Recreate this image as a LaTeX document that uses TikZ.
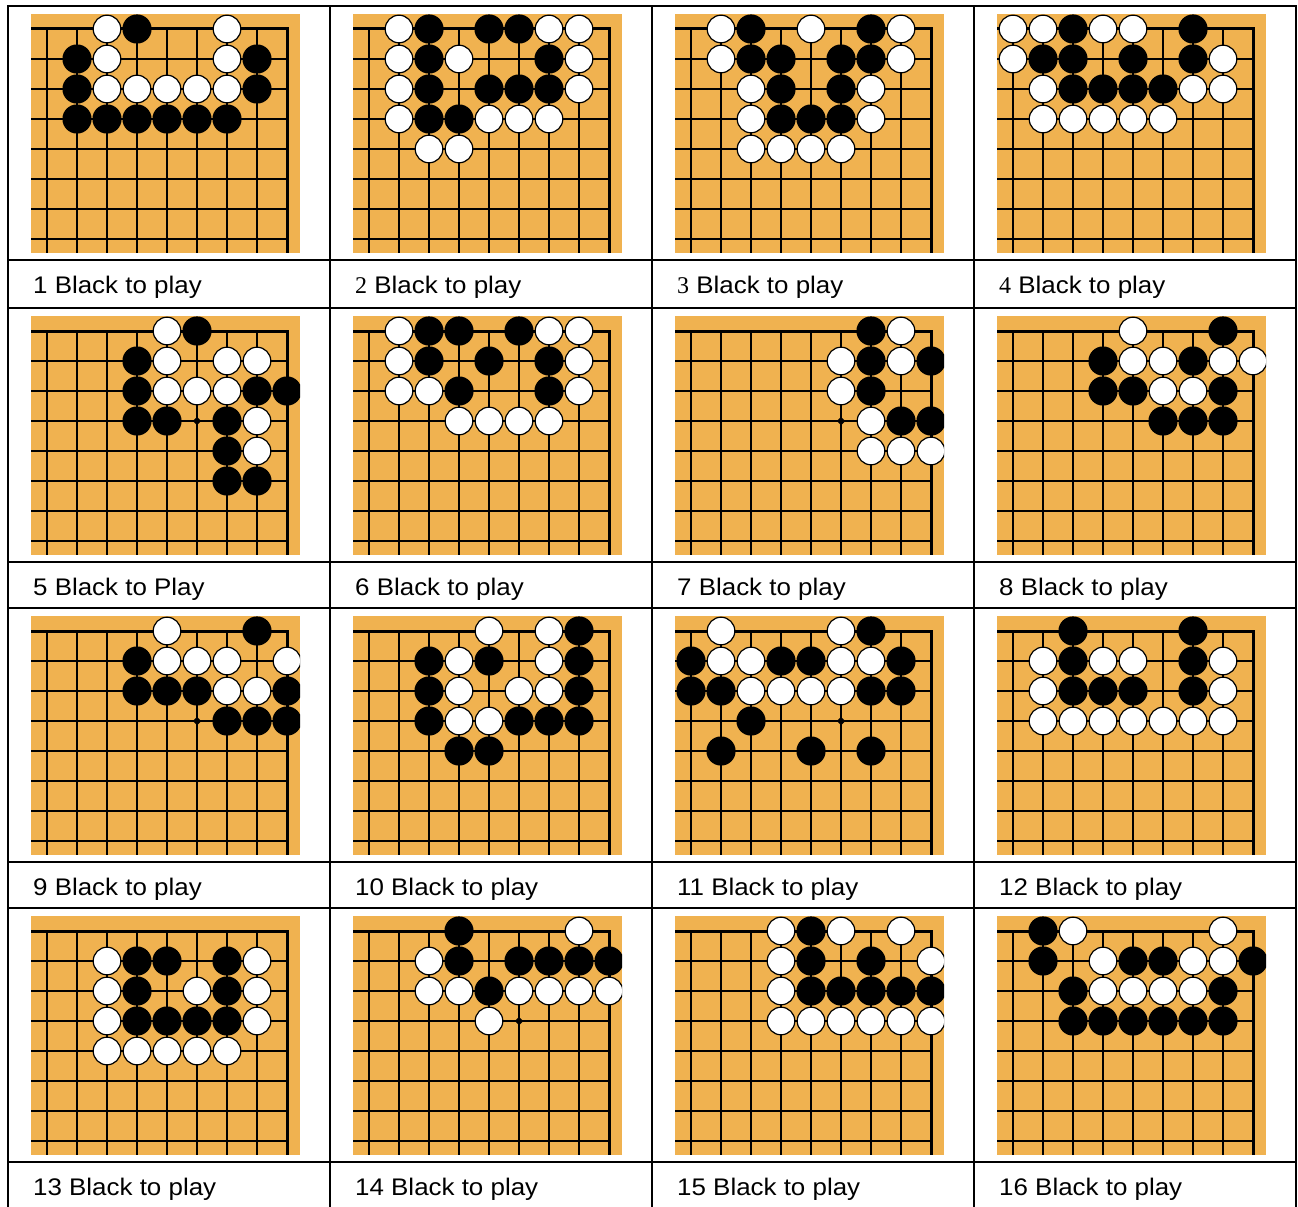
\documentclass[tikz,border=0pt]{standalone}
\usepackage{fontspec}
\setmainfont[FakeStretch=1.08]{Liberation Sans}
\newfontfamily\digitfont{Liberation Serif}
\definecolor{goorange}{RGB}{240, 178, 80}

% one corner diagram: #1 left, #2 top, #3 black stones, #4 white stones (col/row)
\newcommand{\goboard}[4]{%
  \begin{scope}[shift={(#1,#2)}]
    \clip (0,0) rectangle (269,239);
    \fill[goorange] (0,0) rectangle (269,239);
    \foreach \gy in {1,...,7} \draw[gridline] (0,15+30*\gy) -- (256,15+30*\gy);
    \foreach \gx in {0,...,7} \draw[gridline] (16+30*\gx,15) -- (16+30*\gx,239);
    \draw[edgeline] (0,15) -- (256,15) -- (256,239);
    \fill[rotate around={45:(166,105)}] (163,102) rectangle (169,108);
    \foreach \sx/\sy in {#3} \fill[blackstone] (16+30*\sx,15+30*\sy) circle (14.6pt);
    \foreach \sx/\sy in {#4} \draw[whitestone] (16+30*\sx,15+30*\sy) circle (13.8pt);
  \end{scope}}

\begin{document}
\begin{tikzpicture}[x=1pt, y=-1pt,
  tableline/.style={line width=2.4pt, line cap=rect},
  gridline/.style={line width=1.4pt},
  edgeline/.style={line width=3pt, line join=miter},
  blackstone/.style={fill=black},
  whitestone/.style={fill=white, draw=black, line width=1.2pt},
  playlabel/.style={anchor=base west, inner sep=0pt, font=\fontsize{24}{24}\selectfont}]

\useasboundingbox (0,0) rectangle (1298,1207);
\fill[white] (0,0) rectangle (1298,1207);

% === Row 1 ===
\goboard{31}{14}{3/0, 1/1,7/1, 1/2,7/2, 1/3,2/3,3/3,4/3,5/3,6/3}
  {2/0,6/0, 2/1,6/1, 2/2,3/2,4/2,5/2,6/2}
\goboard{353}{14}{2/0,4/0,5/0, 2/1,6/1, 2/2,4/2,5/2,6/2, 2/3,3/3}
  {1/0,6/0,7/0, 1/1,3/1,7/1, 1/2,7/2, 1/3,4/3,5/3,6/3, 2/4,3/4}
\goboard{675}{14}{2/0,6/0, 2/1,3/1,5/1,6/1, 3/2,5/2, 3/3,4/3,5/3}
  {1/0,4/0,7/0, 1/1,7/1, 2/2,6/2, 2/3,6/3, 2/4,3/4,4/4,5/4}
\goboard{997}{14}{2/0,6/0, 1/1,2/1,4/1,6/1, 2/2,3/2,4/2,5/2}
  {0/0,1/0,3/0,4/0, 0/1,7/1, 1/2,6/2,7/2, 1/3,2/3,3/3,4/3,5/3}

% === Row 2 ===
\goboard{31}{316}{5/0, 3/1, 3/2,7/2,8/2, 3/3,4/3,6/3, 6/4, 6/5,7/5}
  {4/0, 4/1,6/1,7/1, 4/2,5/2,6/2, 7/3, 7/4}
\goboard{353}{316}{2/0,3/0,5/0, 2/1,4/1,6/1, 3/2,6/2}
  {1/0,6/0,7/0, 1/1,7/1, 1/2,2/2,7/2, 3/3,4/3,5/3,6/3}
\goboard{675}{316}{6/0, 6/1,8/1, 6/2, 7/3,8/3}
  {7/0, 5/1,7/1, 5/2, 6/3, 6/4,7/4,8/4}
\goboard{997}{316}{7/0, 3/1,6/1, 3/2,4/2,7/2, 5/3,6/3,7/3}
  {4/0, 4/1,5/1,7/1,8/1, 5/2,6/2}

% === Row 3 ===
\goboard{31}{616}{7/0, 3/1, 3/2,4/2,5/2,8/2, 6/3,7/3,8/3}
  {4/0, 4/1,5/1,6/1,8/1, 6/2,7/2}
\goboard{353}{616}{7/0, 2/1,4/1,7/1, 2/2,7/2, 2/3,5/3,6/3,7/3, 3/4,4/4}
  {4/0,6/0, 3/1,6/1, 3/2,5/2,6/2, 3/3,4/3}
\goboard{675}{616}{6/0, 0/1,3/1,4/1,7/1, 0/2,1/2,6/2,7/2, 2/3, 1/4,4/4,6/4}
  {1/0,5/0, 1/1,2/1,5/1,6/1, 2/2,3/2,4/2,5/2}
\goboard{997}{616}{2/0,6/0, 2/1,6/1, 2/2,3/2,4/2,6/2}
  {1/1,3/1,4/1,7/1, 1/2,7/2, 1/3,2/3,3/3,4/3,5/3,6/3,7/3}

% === Row 4 ===
\goboard{31}{916}{3/1,4/1,6/1, 3/2,6/2, 3/3,4/3,5/3,6/3}
  {2/1,7/1, 2/2,5/2,7/2, 2/3,7/3, 2/4,3/4,4/4,5/4,6/4}
\goboard{353}{916}{3/0, 3/1,5/1,6/1,7/1,8/1, 4/2}
  {7/0, 2/1, 2/2,3/2,5/2,6/2,7/2,8/2, 4/3}
\goboard{675}{916}{4/0, 4/1,6/1, 4/2,5/2,6/2,7/2,8/2}
  {3/0,5/0,7/0, 3/1,8/1, 3/2, 3/3,4/3,5/3,6/3,7/3,8/3}
\goboard{997}{916}{1/0, 1/1,4/1,5/1,8/1, 2/2,7/2, 2/3,3/3,4/3,5/3,6/3,7/3}
  {2/0,7/0, 3/1,6/1,7/1, 3/2,4/2,5/2,6/2}

% === Table rules ===
\foreach \x in {8,330,652,974,1296} \draw[tableline] (\x,6) -- (\x,1207);
\foreach \y in {6,260,308,562,608,862,908,1162} \draw[tableline] (8,\y) -- (1296,\y);

% === Captions ===
\node[playlabel] (l1) at (33,293.3) {1 Black to play};
\node[playlabel] (l2) at (355,293.3) {{\digitfont 2} Black to play};
\node[playlabel] (l3) at (677,293.3) {{\digitfont 3} Black to play};
\node[playlabel] (l4) at (999,293.3) {{\digitfont 4} Black to play};
\node[playlabel] (l5) at (33,595.3) {5 Black to Play};
\node[playlabel] (l6) at (355,595.3) {6 Black to play};
\node[playlabel] (l7) at (677,595.3) {7 Black to play};
\node[playlabel] (l8) at (999,595.3) {8 Black to play};
\node[playlabel] (l9) at (33,895.3) {9 Black to play};
\node[playlabel] (l10) at (355,895.3) {10 Black to play};
\node[playlabel] (l11) at (677,895.3) {11 Black to play};
\node[playlabel] (l12) at (999,895.3) {12 Black to play};
\node[playlabel] (l13) at (33,1195.3) {13 Black to play};
\node[playlabel] (l14) at (355,1195.3) {14 Black to play};
\node[playlabel] (l15) at (677,1195.3) {15 Black to play};
\node[playlabel] (l16) at (999,1195.3) {16 Black to play};

\end{tikzpicture}
\end{document}
